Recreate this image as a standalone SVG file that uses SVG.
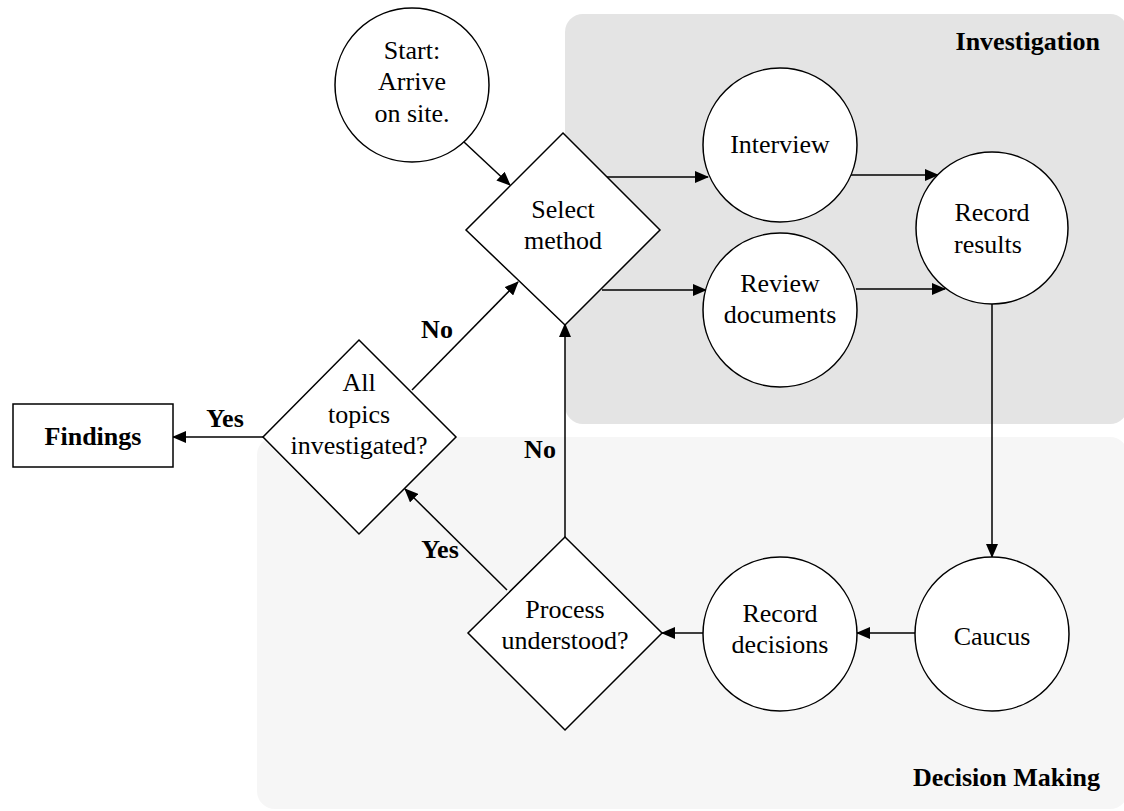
<svg xmlns="http://www.w3.org/2000/svg" width="1124" height="811" viewBox="0 0 1124 811" font-family="'Liberation Serif', 'Times New Roman', Tinos, 'DejaVu Serif', serif">
<style>
text{font-family:'Liberation Serif','Times New Roman',Tinos,'DejaVu Serif',serif;font-size:26px;fill:#000}
.node{fill:#ffffff;stroke:#000000;stroke-width:1.5}
.t{text-anchor:middle}
.b{font-weight:bold}
.e{fill:none;stroke:#000;stroke-width:1.5;marker-end:url(#arr)}
</style>
<defs>
<marker id="arr" markerWidth="14" markerHeight="12" refX="13" refY="6" orient="auto" markerUnits="userSpaceOnUse">
<path d="M0,0 L14,6 L0,12 Z" fill="#000"/>
</marker>
</defs>
<rect width="1124" height="811" fill="#ffffff"/>
<g id="panel-investigation">
<rect x="565" y="14" width="563" height="410" rx="18" fill="#e4e4e4"/>
<text class="b" x="1100" y="50" text-anchor="end">Investigation</text>
</g>
<g id="panel-decision">
<rect x="257" y="437" width="871" height="372" rx="18" fill="#f6f6f6"/>
<text class="b" x="1100" y="786" text-anchor="end">Decision Making</text>
</g>
<g id="connectors">
<line class="e" x1="464" y1="142" x2="510" y2="185"/>
<line class="e" x1="607" y1="177" x2="708" y2="177"/>
<line class="e" x1="602" y1="290" x2="706" y2="290"/>
<line class="e" x1="849" y1="175" x2="938" y2="175"/>
<line class="e" x1="856" y1="289" x2="945" y2="289"/>
<line class="e" x1="992" y1="304" x2="992" y2="557"/>
<line class="e" x1="916" y1="633" x2="857" y2="633"/>
<line class="e" x1="703" y1="633" x2="662" y2="633"/>
<line class="e" x1="565" y1="537" x2="565" y2="324"/>
<line class="e" x1="507" y1="590" x2="405" y2="489"/>
<line class="e" x1="412" y1="390" x2="518" y2="282"/>
<line class="e" x1="263" y1="437" x2="173" y2="437"/>
<text class="b" x="540" y="458" text-anchor="middle">No</text>
<text class="b" x="440" y="558" text-anchor="middle">Yes</text>
<text class="b" x="437" y="338" text-anchor="middle">No</text>
<text class="b" x="225" y="427" text-anchor="middle">Yes</text>
</g>
<g id="start">
<circle class="node" cx="412" cy="85" r="77"/>
<text class="t" x="412" y="59">Start:</text>
<text class="t" x="412" y="90">Arrive</text>
<text class="t" x="412" y="122">on site.</text>
</g>
<g id="select-method">
<polygon class="node" points="563,133 660,230 565,325 466,230"/>
<text class="t" x="563" y="218">Select</text>
<text class="t" x="563" y="249">method</text>
</g>
<g id="interview">
<circle class="node" cx="780" cy="145" r="77"/>
<text class="t" x="780" y="153">Interview</text>
</g>
<g id="review-documents">
<circle class="node" cx="780" cy="310" r="77"/>
<text class="t" x="780" y="292">Review</text>
<text class="t" x="780" y="323">documents</text>
</g>
<g id="record-results">
<circle class="node" cx="992" cy="228" r="76"/>
<text class="t" x="992" y="221">Record</text>
<text class="t" x="988" y="253">results</text>
</g>
<g id="caucus">
<circle class="node" cx="992" cy="634" r="77"/>
<text class="t" x="992" y="645">Caucus</text>
</g>
<g id="record-decisions">
<circle class="node" cx="780" cy="634" r="77"/>
<text class="t" x="780" y="622">Record</text>
<text class="t" x="780" y="653">decisions</text>
</g>
<g id="process-understood">
<polygon class="node" points="565,537 662,633 565,730 468,633"/>
<text class="t" x="565" y="618">Process</text>
<text class="t" x="565" y="649">understood?</text>
</g>
<g id="all-topics">
<polygon class="node" points="359,340 456,437 359,534 263,437"/>
<text class="t" x="359" y="391">All</text>
<text class="t" x="359" y="423">topics</text>
<text class="t" x="359" y="454">investigated?</text>
</g>
<g id="findings">
<rect class="node" x="13" y="404" width="160" height="63"/>
<text class="b t" x="93" y="445">Findings</text>
</g>
</svg>
